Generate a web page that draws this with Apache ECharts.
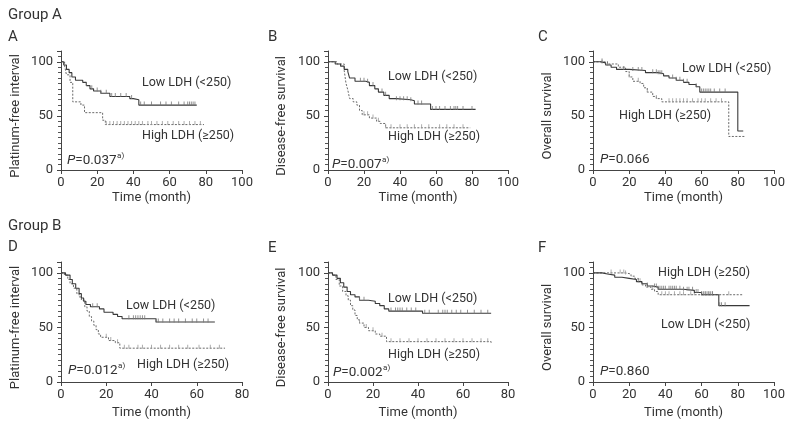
<!DOCTYPE html>
<html><head><meta charset="utf-8">
<script src="https://cdn.jsdelivr.net/npm/echarts@6/dist/echarts.min.js"></script>
<style>html,body{margin:0;padding:0;background:#fff}#c{width:795px;height:428px}</style>
</head><body><div id="c"></div>
<script>
// ---- Data (time in months, survival in %) : [time, survival after step]
const lowA  = [[0,100],[1.5,97],[3,93],[4.5,90],[6,86],[8,83],[12,81],[14,78],[16,75],[18,73],[22,71],[27,68],[38,66],[40,65],[43,60],[75,60]];
const highA = [[0,100],[2,96],[3,88],[5,81],[6.5,63],[11,60],[13,53],[23,46],[24.5,42],[79,42]];
const lowB  = [[0,100],[4,98],[7,96],[9,93],[11,91],[12,85],[15,82],[21,81],[23,78],[26,75],[28,72],[31,69],[34,66],[38,65],[46,64],[48,61],[57,56],[82,56]];
const highB = [[0,100],[5,98],[9,92],[10,80],[11,74],[12,66],[14,63],[16,60],[17.5,55],[19,51],[23,48],[27,45],[29,43],[32,39],[79,39]];
const lowC  = [[0,100],[4,99],[7,97],[10,95],[13,93],[20,92],[29,90],[36,89],[39,87],[42,85],[46,83],[50,81],[53,79],[57,77],[59,72],[80,36],[83,36]];
const highC = [[0,100],[8,98],[14,95],[18,91],[20,86],[22,82],[26,80],[28,76],[30,72],[33,68],[35,66],[38,63],[75,31],[84,31]];
const lowD  = [[0,100],[2,98],[4,94],[5,90],[6.5,86],[8,81],[9,77],[10,74],[11,71],[13,69],[17,67],[19,64],[23,62],[25,60],[27,58],[42,55],[68,55]];
const highD = [[0,100],[1.5,98],[3,94],[4,90],[5.5,86],[7,81],[8,78],[9,75],[10.5,69],[11.5,65],[12.5,60],[13.5,56],[14.5,52],[15.5,48],[16.5,44],[17.5,41],[21,38],[24,36],[26,31],[72.5,31]];
const lowE  = [[0,100],[2,98],[4,95],[5.5,91],[7,87],[8.5,83],[10,80],[12,78],[14,75],[18,74],[21,72],[23,70],[25,67],[27,65],[42,63],[72.5,63]];
const highE = [[0,100],[2,98],[3.5,94],[5,88],[6.5,83],[8,79],[9,75],[10,70],[11,66],[12,61],[13,57],[14,54],[16,50],[18,47],[21,44],[23,42],[26,37],[72.5,36]];
const lowF  = [[0,100],[5,99],[8,98],[12,96],[16,95],[20,94],[24,92],[27,90],[30,88],[33,87],[36,85],[50,84],[56,82],[60,80],[69.5,70],[86.5,70]];
const highF = [[0,100],[18,99],[21,97],[23,95],[25,92],[27,89],[29,87],[32,85],[34,83],[36,80],[83,80]];

// censored observation times
const cenLowA  = [14,17,20,22,25,28,30,33,36,39,44,46,50,55,58,61,65,68,70,71,72,73,74];
const cenHighA = [25,27,29,31,33,35,37,39,41,43,45,48,50,53,56,59,62,65,68,71,74,77];
const cenLowB  = [18,20,22,25,30,32,38,40,42,44,46,50,52,58,60,62,65,68,70,71,72,75,80];
const cenHighB = [20,22,25,28,32,35,40,44,48,52,56,62,66,70,75];
const cenLowC  = [5,8,17,22,25,27,33,35,36,37,38,44,46,48,50,52,57,60,61,62,63,64,65,67,70,73];
const cenHighC = [5,20,25,30,35,42,44,46,48,50,52,55,58,60,62,65,68,71];
const cenLowD  = [14,16,30,32,33,34,35,36,37,42,43,45,48,50,52,55,58,60,63,65];
const cenHighD = [20,22,25,28,30,34,36,40,44,48,52,56,61,66,70];
const cenLowE  = [14,16,28,30,31,32,33,35,37,39,43,45,49,51,52,53,55,57,59,62,65,68,71];
const cenHighE = [14,17,20,24,28,32,36,40,44,48,52,56,60,64,68,71];
const cenLowF  = [25,30,34,35,36,37,38,39,40,42,43,44,45,46,48,50,52,53,55,57,58,60,61,62,63,64,65,66,70,71,73];
const cenHighF = [10,15,17,18,26,33,38,40,42,45,48,50,54,56,60,62,64,66,75];

const yTicks = [0, 50, 100];
const xMaxes = [100, 100, 100, 80, 80, 100];
const yNames = ['Platinum-free interval','Disease-free survival','Overall survival','Platinum-free interval','Disease-free survival','Overall survival'];
const xName = 'Time (month)';
const pValues = ['0.037','0.007','0.066','0.012','0.002','0.860'];
const pSup = [true, true, false, true, true, false];
const panelLetters = ['A','B','C','D','E','F'];
const groupTitles = ['Group A','Group B'];
const lowLabel = 'Low LDH (<250)';
const highLabel = 'High LDH (\u2265250)';

// ---- layout
const grids = [
  {left:61, top:51, width:181, height:119},
  {left:328, top:51, width:180, height:119},
  {left:593, top:51, width:181, height:119},
  {left:61, top:262, width:181, height:120},
  {left:328, top:262, width:180, height:120},
  {left:593, top:262, width:181, height:120}
];
const lows = [lowA,lowB,lowC,lowD,lowE,lowF];
const highs = [highA,highB,highC,highD,highE,highF];
const cenLows = [cenLowA,cenLowB,cenLowC,cenLowD,cenLowE,cenLowF];
const cenHighs = [cenHighA,cenHighB,cenHighC,cenHighD,cenHighE,cenHighF];

function survAt(curve, t){
  let s = curve[0][1];
  for (const p of curve){ if (p[0] <= t) s = p[1]; else break; }
  return s;
}

const FONT = 'Roboto';
const solidColor = '#3a3a3a';
const dashColor = '#6a6a6a';

const xAxis = [], yAxis = [], series = [];
grids.forEach((g, i) => {
  xAxis.push({
    type:'value', gridIndex:i, min:0, max:xMaxes[i], interval:20,
    axisLine:{onZero:false, lineStyle:{color:'#444', width:1}},
    axisTick:{show:true, length:4, lineStyle:{color:'#444'}},
    axisLabel:{fontFamily:FONT, fontSize:13, color:'#333', margin:6},
    splitLine:{show:false}
  });
  yAxis.push({
    type:'value', gridIndex:i, min:0, max:110, interval:50,
    axisLine:{show:true, lineStyle:{color:'#444', width:1}},
    axisTick:{show:true, length:4, lineStyle:{color:'#444'}},
    minorTick:{show:true, splitNumber:10, length:3, lineStyle:{color:'#555'}},
    axisLabel:{fontFamily:FONT, fontSize:13, color:'#333', margin:8,
      formatter: v => yTicks.indexOf(v) >= 0 ? String(v) : ''},
    splitLine:{show:false}, minorSplitLine:{show:false}
  });
  series.push({
    type:'line', xAxisIndex:i, yAxisIndex:i, data:highs[i], step:'end', symbol:'none',
    lineStyle:{color:dashColor, width:1, type:[2,1.5]}, silent:true, z:2
  });
  series.push({
    type:'line', xAxisIndex:i, yAxisIndex:i, data:lows[i], step:'end', symbol:'none',
    lineStyle:{color:solidColor, width:1.1, type:'solid'}, silent:true, z:3
  });
  series.push({
    type:'scatter', xAxisIndex:i, yAxisIndex:i, symbol:'rect', symbolSize:[1,4], symbolOffset:[0,-1.5],
    data:cenHighs[i].map(t => [t, survAt(highs[i], t)]),
    itemStyle:{color:'#999'}, silent:true, z:2
  });
  series.push({
    type:'scatter', xAxisIndex:i, yAxisIndex:i, symbol:'rect', symbolSize:[1,4], symbolOffset:[0,-1.5],
    data:cenLows[i].map(t => [t, survAt(lows[i], t)]),
    itemStyle:{color:'#777'}, silent:true, z:3
  });
});

// ---- annotations
const TXT = '#333';
const txt = (x, y, text, extra) => Object.assign({type:'text', x, y,
  style:Object.assign({text, fontFamily:FONT, fontSize:14, fill:TXT, verticalAlign:'middle'}, extra||{})});

const mctx = document.createElement('canvas').getContext('2d');
function textW(text, size, style){ mctx.font = (style||'normal') + ' ' + size + 'px ' + FONT; return mctx.measureText(text).width; }

const labelPos = [
  {low:[142,83], high:[142,136]},
  {low:[388,77], high:[388,137]},
  {low:[682,69], high:[619,116]},
  {low:[126,306], high:[137,365]},
  {low:[388,299], high:[388,355]},
  {low:[661,325], high:[658,273]}
];
const pPos = [[67,161],[332,165],[600,160],[68,371],[333,373],[600,372]];
const letterPos = [[8,37],[268,37],[538,37],[8,247],[268,248],[538,248]];
const yNameX = [16, 282, 548, 16, 282, 548];
const xNameY = [198, 198, 198, 413, 413, 413];

const graphic = [];
graphic.push(txt(8, 15, groupTitles[0], {fontSize:15}));
graphic.push(txt(8, 226, groupTitles[1], {fontSize:15}));
const LS = 12.5, PS = 13.5;
grids.forEach((g, i) => {
  graphic.push(txt(letterPos[i][0], letterPos[i][1], panelLetters[i], {fontSize:15}));
  graphic.push(txt(labelPos[i].low[0], labelPos[i].low[1], lowLabel, {fontSize:LS}));
  graphic.push(txt(labelPos[i].high[0], labelPos[i].high[1], highLabel, {fontSize:LS}));
  const px = pPos[i][0], py = pPos[i][1];
  graphic.push(txt(px, py, 'P', {fontSize:PS, fontStyle:'italic'}));
  const wP = textW('P', PS, 'italic');
  const rest = '=' + pValues[i];
  graphic.push(txt(px + wP, py, rest, {fontSize:PS}));
  if (pSup[i]) {
    const wR = textW(rest, PS);
    graphic.push(txt(px + wP + wR + 0.5, py - 5, 'a)', {fontSize:8}));
  }
  const cy = g.top + g.height - (g.height * 50/110);
  graphic.push({type:'text', x:yNameX[i], y:cy, rotation:Math.PI/2, style:{
    text:yNames[i], fontFamily:FONT, fontSize:13, fill:TXT, align:'center', verticalAlign:'middle'}});
  graphic.push(txt(g.left + g.width * (i>=3 && xMaxes[i]===80 ? 0.5 : 0.5), xNameY[i], xName, {fontSize:13, align:'center'}));
});

const chart = echarts.init(document.getElementById('c'), null, {renderer:'canvas'});
chart.setOption({
  animation:false,
  backgroundColor:'#fff',
  grid: grids,
  xAxis, yAxis, series, graphic
});
</script></body></html>
